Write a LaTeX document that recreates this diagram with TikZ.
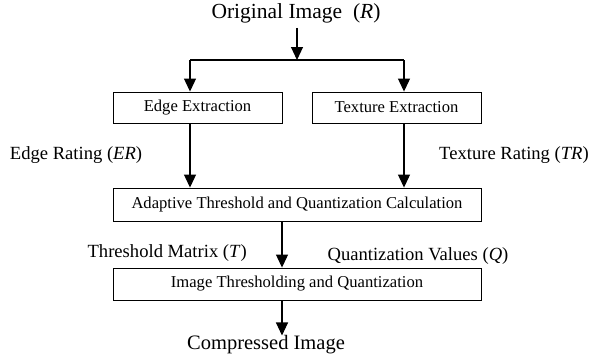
\documentclass[tikz,border=0pt]{standalone}
\usepackage{fontspec}
\setmainfont{Liberation Serif}
\usetikzlibrary{arrows.meta}

\tikzset{
  box/.style={draw, line width=0.9pt, minimum height=31pt, inner sep=0pt,
              font=\fontsize{16.6}{18}\selectfont},
  lbl/.style={font=\fontsize{18.6}{20}\selectfont, inner sep=0pt},
  flow/.style={line width=1.1pt, -{Triangle[length=13pt,width=12pt]}}
}

\begin{document}
\begin{tikzpicture}[x=1pt,y=-1pt]
\useasboundingbox (0,0) rectangle (595,364);
% input and output
\node[lbl, font=\fontsize{21.5}{24}\selectfont] (orig) at (296,13) {Original Image~~(\textit{R})};
\node[lbl, font=\fontsize{20.5}{24}\selectfont] (comp) at (266,345) {Compressed Image};
% blocks
\node[box, minimum width=169pt] (edge) at (197.5,107.5) {Edge Extraction};
\node[box, minimum width=169pt] (text) at (396.5,107.5) {Texture Extraction};
\node[box, minimum width=368pt, minimum height=33pt] (adapt) at (297,204.5) {Adaptive Threshold and Quantization Calculation};
\node[box, minimum width=368pt, minimum height=32pt] (thq) at (297,284) {Image Thresholding and Quantization};
% labels on the arrows
\node[lbl] (er) at (76,155) {Edge Rating (\textit{ER})};
\node[lbl] (tr) at (514,155) {Texture Rating (\textit{TR})};
\node[lbl, anchor=east] (tm) at (247,253) {Threshold Matrix (\textit{T})};
\node[lbl] (qv) at (418,256) {Quantization Values (\textit{Q})};
% split points
\coordinate (top) at (297,60);
\coordinate (lsplit) at (190,60);
\coordinate (rsplit) at (404,60);
\coordinate (mid) at (282,0);
\draw[flow] (orig.south -| top) ++(0,5) -- (top);
\draw[line width=1.1pt] (lsplit) -- (rsplit);
\draw[flow] (lsplit) -- (lsplit |- edge.north);
\draw[flow] (rsplit) -- (rsplit |- text.north);
\draw[flow] (lsplit |- edge.south) -- (lsplit |- adapt.north);
\draw[flow] (rsplit |- text.south) -- (rsplit |- adapt.north);
\draw[flow] (mid |- adapt.south) -- (mid |- thq.north);
\draw[flow] (mid |- thq.south) -- (mid |- comp.north);
\end{tikzpicture}
\end{document}
